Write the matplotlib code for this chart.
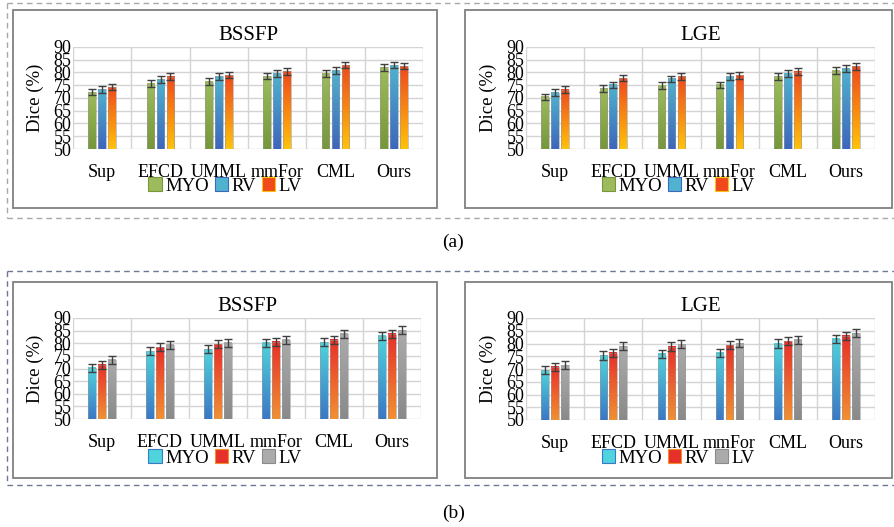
import numpy as np
import matplotlib
matplotlib.use("Agg")
import matplotlib.pyplot as plt
from matplotlib.colors import LinearSegmentedColormap
from matplotlib.patches import Rectangle
from matplotlib.lines import Line2D

plt.rcParams['font.family'] = ['Liberation Serif', 'DejaVu Serif']

methods = ["Sup", "EFCD", "UMML", "mmFor", "CML", "Ours"]
series = ["MYO", "RV", "LV"]

# (a) BSSFP / LGE
a_bssfp = {
    "MYO": [72.3, 75.6, 76.4, 78.6, 79.6, 82.0],
    "RV":  [73.4, 77.3, 78.5, 79.5, 80.8, 82.9],
    "LV":  [74.3, 78.4, 79.0, 80.5, 82.9, 82.5],
}
a_lge = {
    "MYO": [70.4, 73.8, 74.8, 75.1, 78.5, 80.7],
    "RV":  [72.1, 75.1, 77.5, 78.5, 79.5, 81.5],
    "LV":  [73.3, 77.8, 78.5, 78.9, 80.3, 82.4],
}
# (b) BSSFP / LGE
b_bssfp = {
    "MYO": [70.3, 76.8, 77.7, 80.1, 80.4, 83.0],
    "RV":  [71.5, 78.4, 79.7, 80.5, 81.4, 83.8],
    "LV":  [73.5, 79.4, 80.1, 81.4, 83.8, 85.2],
}
b_lge = {
    "MYO": [69.5, 75.3, 75.9, 76.4, 80.0, 81.8],
    "RV":  [70.9, 76.4, 78.8, 79.4, 80.9, 83.0],
    "LV":  [71.5, 79.0, 79.7, 80.1, 81.4, 84.1],
}
err_a = 1.3
err_b = 1.6

yticks = list(range(50, 95, 5))

# gradient colours (top, bottom)
grad_a = {"MYO": ("#9dbb5c", "#76973a"),
          "RV":  ("#4fb3cf", "#3d66bd"),
          "LV":  ("#f04a1c", "#ffc20a")}
grad_b = {"MYO": ("#4fd3dc", "#3a78c6"),
          "RV":  ("#e8302a", "#f29030"),
          "LV":  ("#ababab", "#8a8a8a")}

W, H = 894, 527
fig = plt.figure(figsize=(W / 100, H / 100), dpi=100)


def rect(x0, y0, x1, y1):
    # pixel box -> figure coords
    return [x0 / W, 1 - y1 / H, (x1 - x0) / W, (y1 - y0) / H]


def chart(axpos, boxpos, title, data, grads, err):
    bx0, by0, bx1, by1 = boxpos
    fig.patches.append(Rectangle((bx0 / W, 1 - by1 / H), (bx1 - bx0) / W, (by1 - by0) / H,
                                 transform=fig.transFigure, fill=False,
                                 edgecolor="#808080", lw=1.3))
    ax = fig.add_axes(rect(*axpos))
    x = np.arange(len(methods))
    bw = 0.13
    pitch = 0.17
    for i, s in enumerate(series):
        xs = x + (i - 1) * pitch
        vals = data[s]
        top, bot = grads[s]
        cmap = LinearSegmentedColormap.from_list(s, [bot, top])
        bars = ax.bar(xs, vals, bw, color=top, edgecolor="none", zorder=2)
        for b, v in zip(bars, vals):
            g = np.linspace(0, 1, 64).reshape(-1, 1)
            ax.imshow(g, cmap=cmap, extent=[b.get_x(), b.get_x() + bw, 50, v],
                      origin="lower", aspect="auto", zorder=3)
            ax.add_patch(Rectangle((b.get_x(), 50), bw, v - 50, fill=False,
                                   edgecolor="#9a9a9a", lw=0.4, zorder=4))
        ax.errorbar(xs, vals, yerr=err, fmt="none", ecolor="#404040",
                    elinewidth=1.0, capsize=3, capthick=1.0, zorder=5)
    ax.set_xlim(-0.5, len(methods) - 0.5)
    ax.set_ylim(50, 90)
    ax.set_yticks(yticks)
    ax.set_yticklabels([str(t) for t in yticks], fontsize=13)
    ax.set_xticks(x)
    ax.set_xticklabels(methods, fontsize=13)
    ax.tick_params(axis="both", length=0)
    ax.tick_params(axis="y", pad=1)
    ax.tick_params(axis="x", pad=11)
    for t in yticks:
        ax.axhline(t, color="#d4d4d4", lw=1.0, zorder=0)
    for k in range(len(methods) + 1):
        ax.axvline(k - 0.5, color="#d4d4d4", lw=1.0, zorder=0)
    for sp in ax.spines.values():
        sp.set_visible(False)
    ax.set_ylabel("Dice (%)", fontsize=13.5, labelpad=7)
    ax.set_title(title, fontsize=15, pad=5)
    cx = ((bx0 + bx1) / 2) / W
    handles = [Rectangle((0, 0), 1, 1, facecolor=grads[s][0], edgecolor=grads[s][1], lw=0.8)
               for s in series]
    fig.legend(handles, series, loc="center", bbox_to_anchor=(cx, 1 - (by0 + 176) / H),
               ncol=3, frameon=False, fontsize=13.5, handlelength=0.7, handleheight=0.7,
               handletextpad=0.2, columnspacing=0.3, borderaxespad=0, borderpad=0)
    return ax


chart((73, 47, 423, 149), (13, 10, 437, 208), "BSSFP", a_bssfp, grad_a, err_a)
chart((526, 47, 875, 149), (465, 10, 892, 208), "LGE", a_lge, grad_a, err_a)
chart((73, 318, 421, 419), (13, 282, 437, 478), "BSSFP", b_bssfp, grad_b, err_b)
chart((526, 318, 875, 420), (465, 282, 892, 478), "LGE", b_lge, grad_b, err_b)


# dashed panel frames
def dashed_frame(y0, y1, color):
    kw = dict(transform=fig.transFigure, color=color, lw=1.0, linestyle=(0, (4, 3)))
    fig.lines.append(Line2D([7 / W, 1], [1 - y0 / H, 1 - y0 / H], **kw))
    fig.lines.append(Line2D([7 / W, 1], [1 - y1 / H, 1 - y1 / H], **kw))
    fig.lines.append(Line2D([7 / W, 7 / W], [1 - y0 / H, 1 - y1 / H], **kw))


dashed_frame(3, 218, "#a8a8a8")
dashed_frame(271, 485, "#6c7896")

fig.text(453 / W, 1 - 242 / H, "(a)", ha="center", va="center", fontsize=14)
fig.text(454 / W, 1 - 513 / H, "(b)", ha="center", va="center", fontsize=14)

fig.savefig("out.png", dpi=100)
